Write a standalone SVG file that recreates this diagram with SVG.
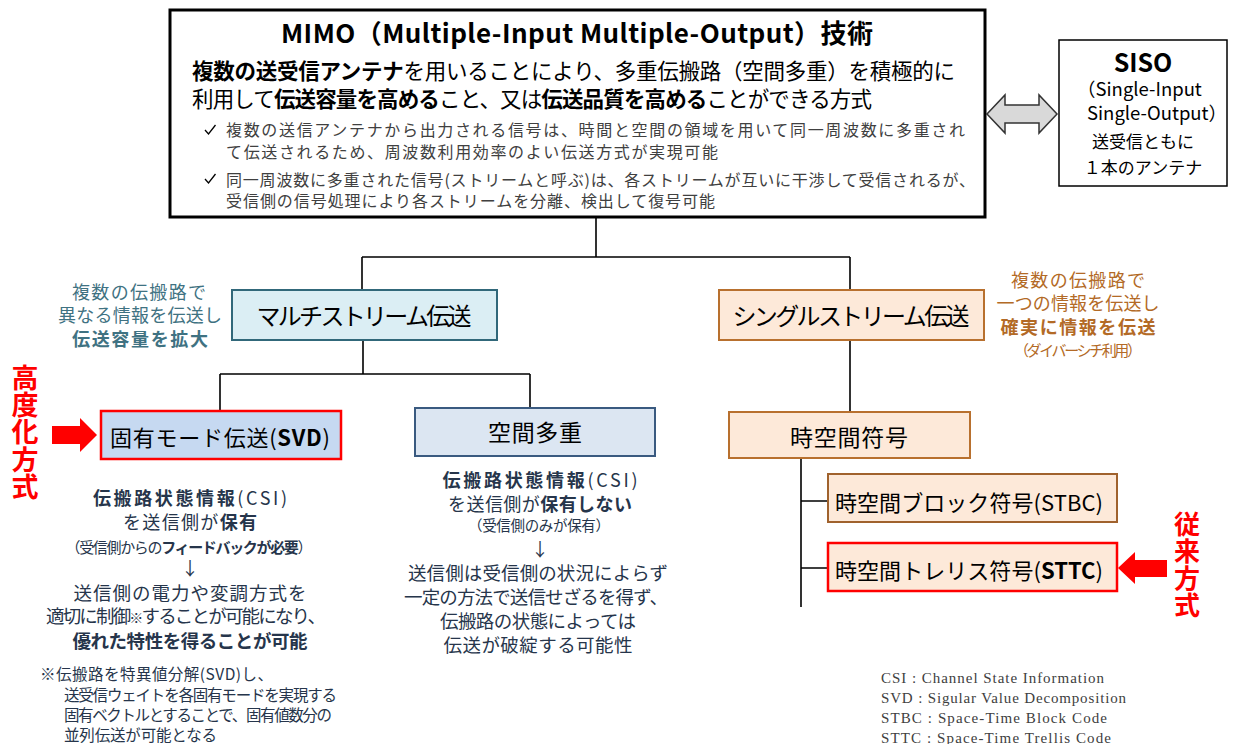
<svg xmlns="http://www.w3.org/2000/svg" width="1259" height="744" viewBox="0 0 1259 744">
<style>
text{font-family:"Noto Sans CJK JP","Noto Sans",sans-serif;}
.b{font-weight:bold;}
.blk{fill:#000;}
.gry{fill:#404040;}
.teal{fill:#3f7282;}
.brn{fill:#b36a26;}
.navy{fill:#26354b;}
.red{fill:#ff0000;font-weight:bold;}
.vt{writing-mode:vertical-rl;}
.leg{font-family:"Liberation Serif","Noto Serif CJK JP",serif;fill:#404040;font-size:15px;}
.ln{stroke:#000;stroke-width:1.6;fill:none;}
.mc{fill:none;stroke:#000;stroke-width:1.3;}
</style>
<rect width="1259" height="744" fill="#fff"/>

<g id="connectors">
<path class="ln" d="M596,218 V257 M362,257 H850 M362,257 V290 M850,257 V290"/>
<path class="ln" d="M363,340 V374 M220,374 H530 M220,374 V411 M530,374 V408"/>
<path class="ln" d="M850,340 V412"/>
<path class="ln" d="M801,458 V607 M801,501 H828 M801,568 H828"/>
<polygon points="987,114 1005,95 1005,105 1039,105 1039,95 1057,114 1039,133 1039,123 1005,123 1005,133" fill="#d9d9d9" stroke="#333" stroke-width="1.5"/>
<polygon points="52,426 80,426 80,418 97,435 80,452 80,444 52,444" fill="#ff0000"/>
<polygon points="1118,568 1135,552 1135,560 1167,560 1167,577 1135,577 1135,584" fill="#ff0000"/>
</g>

<g id="mimo">
<rect x="170" y="10" width="815" height="207" fill="#fff" stroke="#000" stroke-width="3"/>
<text x="577" y="43" text-anchor="middle" font-size="26" class="b blk" textLength="592">MIMO（Multiple-Input Multiple-Output）技術</text>
<text x="192" y="79" font-size="21.5" class="blk" textLength="763"><tspan class="b">複数の送受信アンテナ</tspan>を用いることにより、多重伝搬路（空間多重）を積極的に</text>
<text x="192" y="107" font-size="21.5" class="blk" textLength="680">利用して<tspan class="b">伝送容量を高める</tspan>こと、又は<tspan class="b">伝送品質を高める</tspan>ことができる方式</text>
<path class="mc" d="M205,130 l3.5,4 l7,-9"/>
<text x="226" y="136" font-size="16" class="gry" textLength="739">複数の送信アンテナから出力される信号は、時間と空間の領域を用いて同一周波数に多重され</text>
<text x="226" y="158" font-size="16" class="gry" textLength="492">て伝送されるため、周波数利用効率のよい伝送方式が実現可能</text>
<path class="mc" d="M205,179 l3.5,4 l7,-9"/>
<text x="226" y="186" font-size="16" class="gry" textLength="749">同一周波数に多重された信号(ストリームと呼ぶ)は、各ストリームが互いに干渉して受信されるが、</text>
<text x="226" y="207" font-size="16" class="gry" textLength="489">受信側の信号処理により各ストリームを分離、検出して復号可能</text>
</g>

<g id="siso">
<rect x="1059" y="40" width="168" height="146" fill="#fff" stroke="#000" stroke-width="1.5"/>
<text x="1143" y="72" text-anchor="middle" font-size="25" class="b blk">SISO</text>
<text x="1077" y="96" font-size="18.5" class="blk">（Single-Input</text>
<text x="1087" y="120" font-size="18.5" class="blk">Single-Output）</text>
<text x="1143" y="148" text-anchor="middle" font-size="17" class="blk">送受信ともに</text>
<text x="1143" y="174" text-anchor="middle" font-size="17" class="blk">１本のアンテナ</text>
</g>

<g id="multistream">
<rect x="232" y="290" width="265" height="50" fill="#dbeef4" stroke="#31687a" stroke-width="2"/>
<text x="364" y="325" text-anchor="middle" font-size="24" class="blk" textLength="215">マルチストリーム伝送</text>
</g>
<g id="multistream-note">
<text x="139" y="299" text-anchor="middle" font-size="18" class="teal" textLength="134">複数の伝搬路で</text>
<text x="140" y="322" text-anchor="middle" font-size="18" class="teal" textLength="164">異なる情報を伝送し</text>
<text x="140" y="346" text-anchor="middle" font-size="18" class="teal b" textLength="136">伝送容量を拡大</text>
</g>

<g id="singlestream">
<rect x="719" y="290" width="265" height="50" fill="#fde9d9" stroke="#b8702e" stroke-width="2"/>
<text x="851" y="325" text-anchor="middle" font-size="24" class="blk" textLength="237">シングルストリーム伝送</text>
</g>
<g id="singlestream-note">
<text x="1078" y="287" text-anchor="middle" font-size="18" class="brn" textLength="134">複数の伝搬路で</text>
<text x="1078" y="310" text-anchor="middle" font-size="18" class="brn" textLength="163">一つの情報を伝送し</text>
<text x="1078" y="334" text-anchor="middle" font-size="18" class="brn b" textLength="155">確実に情報を伝送</text>
<text x="1078" y="356" text-anchor="middle" font-size="15" class="brn" textLength="128">（ダイバーシチ利用）</text>
</g>

<g id="svd">
<rect x="101" y="411" width="240" height="48" fill="#c6d9f1" stroke="#ff0000" stroke-width="2.5"/>
<text x="110" y="446" font-size="22" class="blk" textLength="220">固有モード伝送(<tspan class="b">SVD</tspan>)</text>
</g>
<g id="svd-label">
<text x="25" y="364" font-size="27" class="red vt" letter-spacing="0.3">高度化方式</text>
</g>
<g id="svd-note">
<text x="190" y="505" text-anchor="middle" font-size="18" class="navy" textLength="194"><tspan class="b">伝搬路状態情報</tspan>(CSI)</text>
<text x="190" y="529" text-anchor="middle" font-size="18" class="navy" textLength="134">を送信側が<tspan class="b">保有</tspan></text>
<text x="189" y="553" text-anchor="middle" font-size="15" class="navy" textLength="247">（受信側からの<tspan class="b">フィードバックが必要</tspan>）</text>
<text x="190" y="575" text-anchor="middle" font-size="18" class="navy">↓</text>
<text x="190" y="600" text-anchor="middle" font-size="18.5" class="navy" textLength="233">送信側の電力や変調方式を</text>
<text x="186" y="623" text-anchor="middle" font-size="18.5" class="navy" textLength="280">適切に制御<tspan font-size="14">※</tspan>することが可能になり、</text>
<text x="190" y="648" text-anchor="middle" font-size="18.5" class="navy b" textLength="235">優れた特性を得ることが可能</text>
<text x="40" y="680" font-size="15.5" class="navy" textLength="233">※伝搬路を特異値分解(SVD)し、</text>
<text x="64" y="701" font-size="15.5" class="navy" textLength="273">送受信ウェイトを各固有モードを実現する</text>
<text x="64" y="721" font-size="15.5" class="navy" textLength="268">固有ベクトルとすることで、固有値数分の</text>
<text x="64" y="741" font-size="15.5" class="navy" textLength="153">並列伝送が可能となる</text>
</g>

<g id="spatial">
<rect x="415" y="408" width="240" height="48" fill="#dce6f2" stroke="#3a5a80" stroke-width="2"/>
<text x="535" y="441" text-anchor="middle" font-size="23" class="blk" textLength="94">空間多重</text>
</g>
<g id="spatial-note">
<text x="540" y="487" text-anchor="middle" font-size="18" class="navy" textLength="195"><tspan class="b">伝搬路状態情報</tspan>(CSI)</text>
<text x="540" y="511" text-anchor="middle" font-size="18" class="navy" textLength="184">を送信側が<tspan class="b">保有しない</tspan></text>
<text x="539" y="531" text-anchor="middle" font-size="14.5" class="navy" textLength="142">（受信側のみが保有）</text>
<text x="540" y="556" text-anchor="middle" font-size="18" class="navy">↓</text>
<text x="538" y="580" text-anchor="middle" font-size="18.5" class="navy" textLength="260">送信側は受信側の状況によらず</text>
<text x="536" y="604" text-anchor="middle" font-size="18.5" class="navy" textLength="264">一定の方法で送信せざるを得ず、</text>
<text x="538" y="628" text-anchor="middle" font-size="18.5" class="navy" textLength="196">伝搬路の状態によっては</text>
<text x="538" y="652" text-anchor="middle" font-size="18.5" class="navy" textLength="189">伝送が破綻する可能性</text>
</g>

<g id="stc">
<rect x="729" y="412" width="241" height="46" fill="#fde9d9" stroke="#b8702e" stroke-width="2"/>
<text x="849" y="446" text-anchor="middle" font-size="23" class="blk" textLength="118">時空間符号</text>
</g>
<g id="stbc">
<rect x="828" y="474" width="289" height="48" fill="#fde9d9" stroke="#a0622d" stroke-width="2"/>
<text x="835" y="511" font-size="22" class="blk" textLength="268">時空間ブロック符号(STBC)</text>
</g>
<g id="sttc">
<rect x="828" y="543" width="289" height="48" fill="#fde9d9" stroke="#ff0000" stroke-width="2.5"/>
<text x="835" y="579" font-size="22" class="blk" textLength="268">時空間トレリス符号(<tspan class="b">STTC</tspan>)</text>
</g>
<g id="sttc-label">
<text x="1187" y="511" font-size="26" class="red vt" letter-spacing="1">従来方式</text>
</g>

<g id="legend">
<text x="881" y="683" class="leg" textLength="223">CSI : Channel State Information</text>
<text x="881" y="703" class="leg" textLength="245">SVD : Sigular Value Decomposition</text>
<text x="881" y="723" class="leg" textLength="226">STBC : Space-Time Block Code</text>
<text x="881" y="743" class="leg" textLength="230">STTC : Space-Time Trellis Code</text>
</g>
</svg>
